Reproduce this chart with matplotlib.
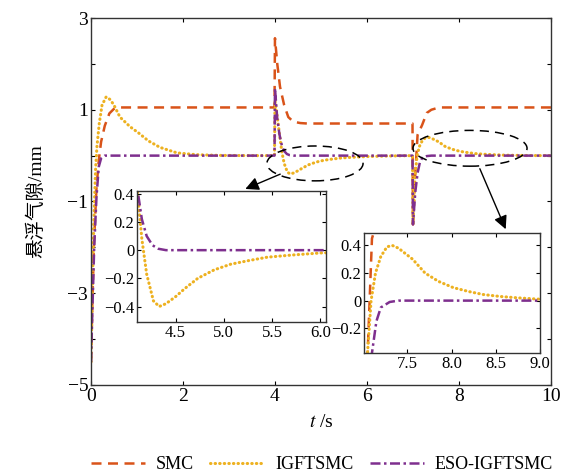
import numpy as np
import matplotlib
matplotlib.use('Agg')
import matplotlib.pyplot as plt
from matplotlib.patches import Ellipse

plt.rcParams['font.family'] = ['Liberation Serif', 'Noto Sans CJK SC']
plt.rcParams['mathtext.fontset'] = 'stix'

# data (t in s, gap in mm)
t_smc = [0, 0.03, 0.07, 0.12, 0.17, 0.22, 0.3, 0.4, 0.5, 0.6, 3.99, 4.0, 4.05, 4.11, 4.2, 4.29,
         4.4, 4.55, 4.7, 6.99, 7.0, 7.05, 7.1, 7.2, 7.3, 7.4, 7.5, 7.6, 10]
smc = [-4.5, -3.2, -1.8, -0.7, -0.1, 0.3, 0.65, 0.92, 1.02, 1.05, 1.05, 2.56, 2.0, 1.5, 1.1, 0.84,
       0.74, 0.71, 0.70, 0.70, -1.5, -0.4, 0.45, 0.67, 0.93, 1.0, 1.03, 1.05, 1.05]

t_igf = [0, 0.03, 0.06, 0.1, 0.13, 0.18, 0.24, 0.33, 0.42, 0.5, 0.63, 0.85, 1.04, 1.25, 1.5, 1.87,
         2.3, 2.8, 3.5, 3.99, 4.0, 4.05, 4.1, 4.15, 4.2, 4.27, 4.33, 4.4, 4.5, 4.6, 4.73, 4.9, 5.07,
         5.25, 5.45, 5.7, 6.0, 6.5, 6.99, 7.0, 7.05, 7.09, 7.14, 7.2, 7.27, 7.33, 7.4, 7.48, 7.56,
         7.7, 7.85, 8.02, 8.2, 8.36, 8.55, 8.75, 9.0, 9.5, 10]
igf = [-4.5, -3.0, -1.5, -0.3, 0.2, 0.7, 1.1, 1.28, 1.22, 1.1, 0.84, 0.63, 0.49, 0.32, 0.18, 0.06,
       0.02, 0.005, 0, 0, 1.2, 0.85, 0.45, 0.08, -0.17, -0.36, -0.4, -0.38, -0.33, -0.27, -0.2, -0.14,
       -0.1, -0.075, -0.05, -0.035, -0.02, -0.008, 0, -1.5, -0.38, 0, 0.2, 0.32, 0.39, 0.4, 0.38,
       0.34, 0.3, 0.2, 0.14, 0.094, 0.065, 0.044, 0.03, 0.02, 0.01, 0.002, 0]

t_eso = [0, 0.03, 0.07, 0.12, 0.17, 0.22, 0.3, 3.99, 4.0, 4.05, 4.1, 4.15, 4.2, 4.26, 4.32, 4.4,
         6.99, 7.0, 7.05, 7.1, 7.15, 7.2, 7.3, 7.4, 10]
eso = [-4.5, -3.4, -2.0, -0.9, -0.24, -0.06, 0, 0, 1.47, 0.8, 0.45, 0.22, 0.1, 0.035, 0.01, 0,
       0, -1.5, -0.8, -0.38, -0.15, -0.05, -0.01, 0, 0]

names = ['SMC', 'IGFTSMC', 'ESO-IGFTSMC']
colors = ['#D95319', '#EDB120', '#7E2F8E']

def draw(ax, lw=1.8):
	ax.plot(t_smc, smc, color=colors[0], lw=lw, dashes=(4, 2.6), label=names[0])
	ax.plot(t_igf, igf, color=colors[1], lw=lw + 0.4, dashes=(0.15, 1.35), dash_capstyle='round', label=names[1])
	ax.plot(t_eso, eso, color=colors[2], lw=lw, dashes=(4, 1.4, 1, 1.4), label=names[2])

def style(ax, size):
	ax.tick_params(direction='in', top=True, right=True, labelsize=size, length=3, width=0.8, pad=2)
	for s in ax.spines.values():
		s.set_linewidth(1.0)
		s.set_color('#333333')

fig = plt.figure(figsize=(5.7, 4.75), dpi=100)
ax = fig.add_axes([0.1596, 0.1895, 0.807, 0.7726])
draw(ax)
ax.set_xlim(0, 10)
ax.set_ylim(-5, 3)
ax.set_xticks([0, 2, 4, 6, 8, 10])
ax.set_yticks(range(-5, 4))
ax.set_yticklabels(['−5', '', '−3', '', '−1', '', '1', '', '3'])
style(ax, 14)
ax.set_xlabel('$t$ /s', fontsize=14, labelpad=7)
ax.set_ylabel('悬浮气隙/mm', fontsize=14, labelpad=16)

# zoom marks
ax.add_patch(Ellipse((4.87, -0.17), 2.09, 0.76, fill=False, ls=(0, (6, 4)), lw=1.1, color='k', zorder=5))
ax.add_patch(Ellipse((8.24, 0.16), 2.48, 0.78, fill=False, ls=(0, (6, 4)), lw=1.1, color='k', zorder=5))
ax.annotate('', xy=(3.30, -0.75), xytext=(4.17, -0.38),
            arrowprops=dict(arrowstyle='-|>', color='k', lw=1.0, mutation_scale=20), zorder=6)
ax.annotate('', xy=(9.04, -1.66), xytext=(8.43, -0.23),
            arrowprops=dict(arrowstyle='-|>', color='k', lw=1.0, mutation_scale=20), zorder=6)

ins1 = fig.add_axes([0.2404, 0.3221, 0.3316, 0.2758])
draw(ins1)
ins1.set_xlim(4.1, 6.06)
ins1.set_ylim(-0.51, 0.42)
ins1.set_xticks([4.5, 5.0, 5.5, 6.0])
ins1.set_xticklabels(['4.5', '5.0', '5.5', '6.0'])
ins1.set_yticks([0.4, 0.2, 0, -0.2, -0.4])
ins1.set_yticklabels(['0.4', '0.2', '0', '−0.2', '−0.4'])
style(ins1, 12)

ins2 = fig.add_axes([0.6386, 0.2568, 0.3088, 0.2526])
draw(ins2)
ins2.set_xlim(7.01, 9.0)
ins2.set_ylim(-0.38, 0.49)
ins2.set_xticks([7.5, 8.0, 8.5, 9.0])
ins2.set_xticklabels(['7.5', '8.0', '8.5', '9.0'])
ins2.set_yticks([0.4, 0.2, 0, -0.2])
ins2.set_yticklabels(['0.4', '0.2', '0', '−0.2'])
style(ins2, 12)

h, l = ax.get_legend_handles_labels()
fig.legend(h, l, loc='center', bbox_to_anchor=(0.565, 0.022), ncol=3, frameon=False, fontsize=13,
           handlelength=3.0, columnspacing=0.9, handletextpad=0.6)

fig.savefig('out.png', dpi=100)
